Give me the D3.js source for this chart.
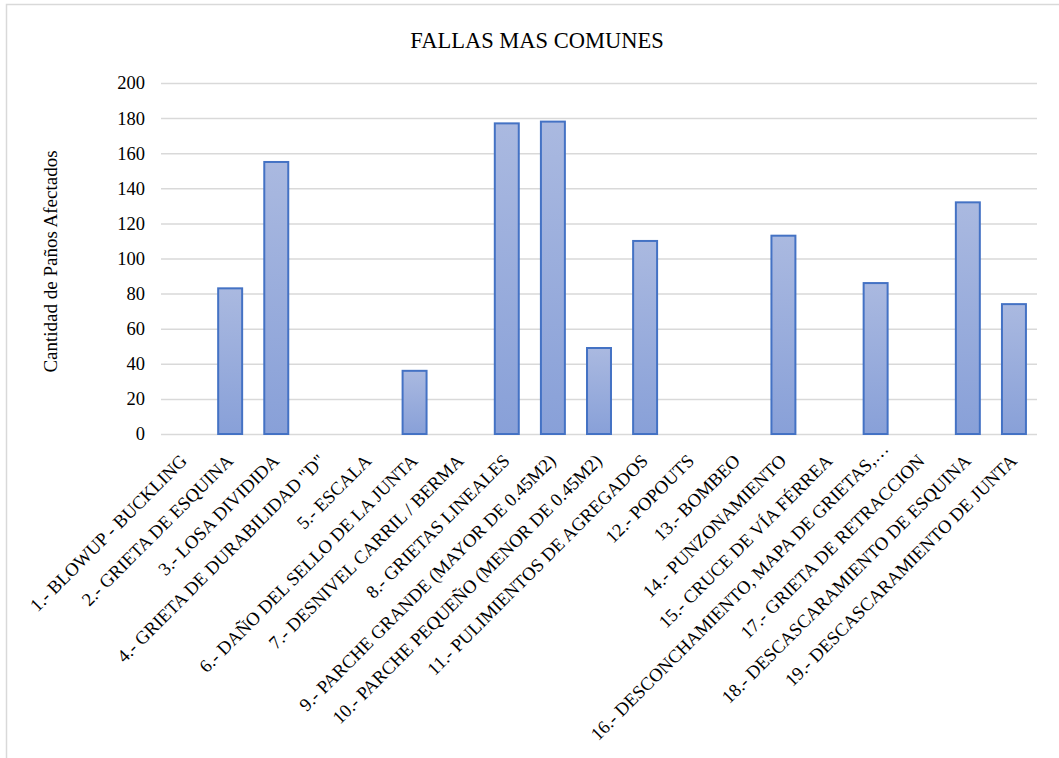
<!DOCTYPE html>
<html>
<head>
<meta charset="utf-8">
<script src="https://cdn.jsdelivr.net/npm/d3@7/dist/d3.min.js"></script>
<style>
  html, body { margin: 0; padding: 0; background: #fff; }
  svg { display: block; font-family: "Liberation Serif", "Times New Roman", serif; }
</style>
</head>
<body>
<svg id="chart" width="1059" height="758"></svg>
<script>
// Failure types surveyed and number of affected slabs for each
const categories = [
  "1.- BLOWUP - BUCKLING",
  "2.- GRIETA DE ESQUINA",
  "3.- LOSA DIVIDIDA",
  "4.- GRIETA DE DURABILIDAD \"D\"",
  "5.- ESCALA",
  "6.- DAÑO DEL SELLO DE LA JUNTA",
  "7.- DESNIVEL CARRIL / BERMA",
  "8.- GRIETAS LINEALES",
  "9.- PARCHE GRANDE (MAYOR DE 0.45M2)",
  "10.- PARCHE PEQUEÑO (MENOR DE 0.45M2)",
  "11.- PULIMIENTOS DE AGREGADOS",
  "12.- POPOUTS",
  "13.- BOMBEO",
  "14.- PUNZONAMIENTO",
  "15.- CRUCE DE VÍA FÉRREA",
  "16.- DESCONCHAMIENTO, MAPA DE GRIETAS,…",
  "17.- GRIETA DE RETRACCION",
  "18.- DESCASCARAMIENTO DE ESQUINA",
  "19.- DESCASCARAMIENTO DE JUNTA"
];
const values = [0, 83, 155, 0, 0, 36, 0, 177, 178, 49, 110, 0, 0, 113, 0, 86, 0, 132, 74];
const yTicks = [0, 20, 40, 60, 80, 100, 120, 140, 160, 180, 200];
const chartTitle = "FALLAS MAS COMUNES";
const yTitle = "Cantidad de Paños Afectados";

const svg = d3.select("#chart");
const W = 1059, H = 758;
const plot = { left: 161, right: 1037, top: 83, bottom: 434 };
const serif = "'Liberation Serif', 'Times New Roman', serif";

// outer chart frame
svg.append("rect")
  .attr("x", 6.5).attr("y", 4.5)
  .attr("width", W + 10).attr("height", H + 10)
  .attr("fill", "#fff").attr("stroke", "#d9d9d9").attr("stroke-width", 1.5);

const defs = svg.append("defs");
const grad = defs.append("linearGradient")
  .attr("id", "barFill").attr("x1", 0).attr("y1", 0).attr("x2", 0).attr("y2", 1);
grad.append("stop").attr("offset", "0%").attr("stop-color", "#aab9e0");
grad.append("stop").attr("offset", "100%").attr("stop-color", "#88a0d8");

const x = d3.scaleBand()
  .domain(categories)
  .range([plot.left, plot.right])
  .paddingInner(0.48).paddingOuter(0.24);

const y = d3.scaleLinear()
  .domain([0, 200])
  .range([plot.bottom, plot.top]);

// horizontal gridlines with value labels
const yAxis = d3.axisLeft(y)
  .tickValues(yTicks)
  .tickSize(-(plot.right - plot.left))
  .tickPadding(16);
const gy = svg.append("g")
  .attr("transform", `translate(${plot.left},0)`)
  .call(yAxis);
gy.select(".domain").remove();
gy.selectAll(".tick line").attr("stroke", "#d9d9d9").attr("stroke-width", 1.5);
gy.selectAll(".tick text")
  .attr("fill", "#000")
  .style("font-family", serif)
  .style("font-size", "18.5px");

// bars
svg.append("g").selectAll("rect")
  .data(categories.map((c, i) => ({ c, v: values[i] })).filter(d => d.v > 0))
  .join("rect")
  .attr("x", d => x(d.c))
  .attr("y", d => y(d.v))
  .attr("width", x.bandwidth())
  .attr("height", d => y(0) - y(d.v))
  .attr("fill", "url(#barFill)")
  .attr("stroke", "#4472c4")
  .attr("stroke-width", 2);

// category axis with labels rotated 45 degrees, ending just under each tick;
// a truncated label (ending in an ellipsis) sits a little further up its slope
const xAxis = d3.axisBottom(x).tickSize(0).tickPadding(0);
const gx = svg.append("g")
  .attr("transform", `translate(0,${plot.bottom})`)
  .call(xAxis);
gx.select(".domain").remove();
gx.selectAll(".tick text")
  .attr("fill", "#000")
  .style("font-family", serif)
  .style("font-size", "18.5px")
  .attr("text-anchor", "end")
  .attr("x", 0).attr("y", 0).attr("dy", 0)
  .attr("transform", d => d.endsWith("…")
    ? "translate(14,16) rotate(-45)"
    : "translate(4,28) rotate(-45)");

// title
svg.append("text")
  .attr("x", 537).attr("y", 48)
  .attr("text-anchor", "middle")
  .style("font-family", serif)
  .style("font-size", "22.5px")
  .attr("fill", "#000")
  .text(chartTitle);

// y axis title
svg.append("text")
  .attr("transform", `translate(57,${(plot.top + plot.bottom) / 2 + 3}) rotate(-90)`)
  .attr("text-anchor", "middle")
  .style("font-family", serif)
  .style("font-size", "19px")
  .attr("fill", "#000")
  .text(yTitle);
</script>
</body>
</html>
